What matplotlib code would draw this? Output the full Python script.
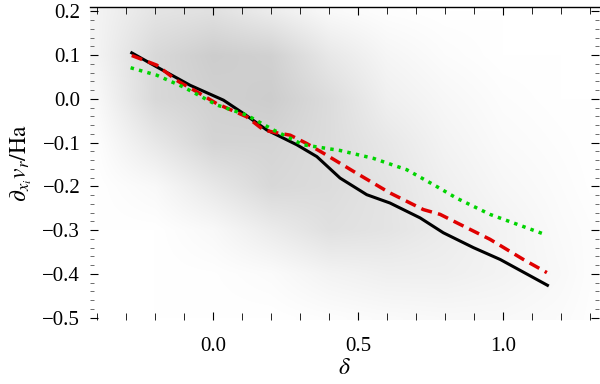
import numpy as np
import matplotlib
matplotlib.use("Agg")
import matplotlib.pyplot as plt
from matplotlib.ticker import MultipleLocator

plt.rcParams['font.family'] = 'serif'
plt.rcParams['font.serif'] = ['Liberation Serif']
plt.rcParams['mathtext.fontset'] = 'stix'

# Lines (delta, value)
black_x = [-0.28, -0.194, -0.079, 0.036, 0.104, 0.185, 0.289, 0.358, 0.438, 0.530, 0.61, 0.714, 0.794, 0.898, 0.99, 1.153]
black_y = [0.105, 0.073, 0.031, -0.003, -0.033, -0.071, -0.105, -0.132, -0.181, -0.219, -0.238, -0.272, -0.306, -0.340, -0.367, -0.426]

red_x = [-0.28, -0.194, -0.125, -0.045, 0.013, 0.116, 0.174, 0.214, 0.266, 0.323, 0.380, 0.495, 0.61, 0.725, 0.783, 0.84, 0.955, 1.07, 1.151]
red_y = [0.099, 0.077, 0.042, 0.012, -0.011, -0.041, -0.071, -0.077, -0.083, -0.102, -0.124, -0.170, -0.215, -0.253, -0.264, -0.283, -0.321, -0.367, -0.397]

green_x = [-0.284, -0.194, -0.102, 0.013, 0.116, 0.208, 0.311, 0.438, 0.553, 0.668, 0.76, 0.84, 0.955, 1.145]
green_y = [0.071, 0.054, 0.027, -0.014, -0.037, -0.071, -0.105, -0.118, -0.136, -0.162, -0.196, -0.227, -0.264, -0.310]

# Background density grid (darkness 0..1)
dens_x = [-0.4, -0.2, 0.0, 0.2, 0.4, 0.6, 0.8, 1.0, 1.2, 1.3]
dens_y = [0.2, 0.1, 0.0, -0.1, -0.2, -0.3, -0.4, -0.5]
density = [
    [0.15, 0.35, 0.40, 0.25, 0.08, 0.02, 0.00, 0.00, 0.00, 0.00],
    [0.15, 0.50, 0.65, 0.60, 0.30, 0.12, 0.04, 0.00, 0.00, 0.00],
    [0.08, 0.50, 0.60, 0.65, 0.45, 0.20, 0.10, 0.03, 0.00, 0.00],
    [0.02, 0.30, 0.55, 0.55, 0.45, 0.30, 0.15, 0.06, 0.02, 0.00],
    [0.00, 0.08, 0.30, 0.50, 0.45, 0.35, 0.20, 0.10, 0.04, 0.01],
    [0.00, 0.00, 0.08, 0.25, 0.40, 0.35, 0.25, 0.15, 0.06, 0.03],
    [0.00, 0.00, 0.01, 0.05, 0.15, 0.20, 0.20, 0.15, 0.08, 0.03],
    [0.00, 0.00, 0.00, 0.00, 0.03, 0.06, 0.08, 0.08, 0.05, 0.02],
]

fig = plt.figure(figsize=(6, 3.84), dpi=100)
ax = fig.add_axes([0.15, 0.167, 0.848, 0.815])

xlim = (-0.424, 1.33)
ylim = (-0.505, 0.21)

D = np.array(density)
gx = np.linspace(xlim[0], xlim[1], 400)
gy = np.linspace(ylim[1], ylim[0], 250)
dx = np.array(dens_x)
dy = np.array(dens_y)
tmp = np.array([np.interp(gx, dx, row) for row in D])
fine = np.array([np.interp(-gy, -dy, tmp[:, j]) for j in range(len(gx))]).T
rgb = 1 - 0.30 * fine
img = np.dstack([rgb, rgb, rgb])
ax.imshow(img, extent=[xlim[0], xlim[1], ylim[0], ylim[1]], aspect='auto',
          interpolation='bilinear', zorder=0)

ax.plot(black_x, black_y, color='black', lw=2.2, zorder=3, solid_joinstyle='round')
ax.plot(red_x, red_y, color='#e00000', lw=2.5, dashes=(3.2, 1.8), zorder=4)
ax.plot(green_x, green_y, color='#00d400', lw=2.5, dashes=(1, 1.5), zorder=5)

ax.set_xlim(*xlim)
ax.set_ylim(*ylim)

ax.xaxis.set_major_locator(MultipleLocator(0.5))
ax.xaxis.set_minor_locator(MultipleLocator(0.1))
ax.yaxis.set_major_locator(MultipleLocator(0.1))
ax.yaxis.set_minor_locator(MultipleLocator(0.02))
ax.tick_params(which='both', direction='in', top=True, right=True, labelsize=15, color='black')
ax.tick_params(which='major', length=6, width=0.8)
ax.tick_params(which='minor', length=3, width=0.6, color='#555555')
ax.tick_params(axis='x', which='minor', length=5, color='black')
ax.tick_params(axis='x', which='major', pad=12)
ax.tick_params(axis='y', which='major', pad=7)

for s in ['left', 'bottom', 'right']:
    ax.spines[s].set_visible(False)
ax.spines['top'].set_linewidth(1.0)

ax.set_xlabel(r'$\delta$', fontsize=17, labelpad=2)
ax.set_ylabel(r'$\partial_{x_i} v_r/\mathrm{Ha}$', fontsize=17, labelpad=6)

fig.savefig('out.png', dpi=100)
